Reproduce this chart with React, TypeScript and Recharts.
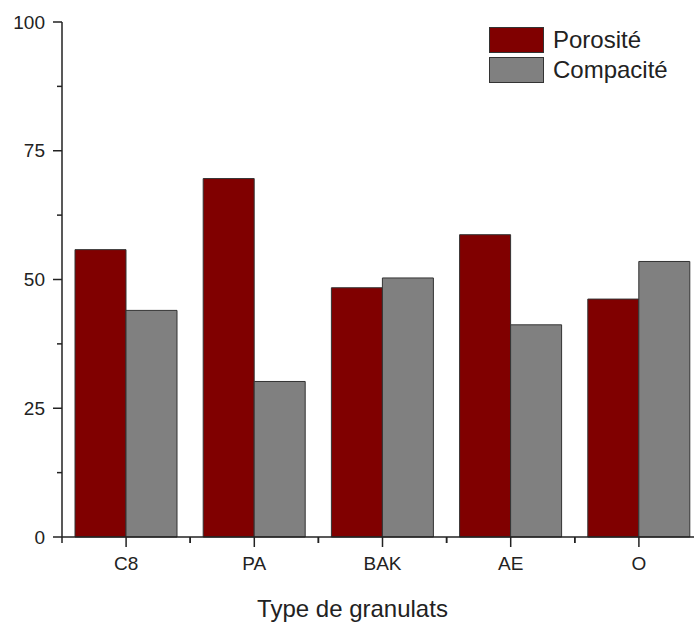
import { BarChart, Bar, XAxis, YAxis, Legend } from 'recharts';

const categories = ['C8', 'PA', 'BAK', 'AE', 'O'];
const seriesNames = ['Porosité', 'Compacité'];
const porosite = [55.8, 69.6, 48.4, 58.7, 46.2];
const compacite = [44.0, 30.2, 50.3, 41.2, 53.5];
const yTicks = [0, 12.5, 25, 37.5, 50, 62.5, 75, 87.5, 100];
const yLabels = [0, 25, 50, 75, 100];

const data = categories.map((name, i) => ({
  name,
  porosite: porosite[i],
  compacite: compacite[i],
}));

const FONT = '"Liberation Sans", Arial, sans-serif';
const INK = '#222';

// y ticks: long ones with a label, short ones in between
const YTick = (props: any) => {
  const { x, y, payload } = props;
  const major = yLabels.includes(payload.value);
  const len = major ? 9 : 5;
  return (
    <g>
      <line x1={x - len} x2={x} y1={y} y2={y} stroke={INK} strokeWidth={1.5} />
      {major && (
        <text x={x - len - 8} y={y} dy="0.35em" textAnchor="end" fontSize={19} fill={INK} fontFamily={FONT}>
          {payload.value}
        </text>
      )}
    </g>
  );
};

// x ticks: long one at the category, short ones at the band edges
const XTick = (props: any) => {
  const { x, y, payload, width, visibleTicksCount } = props;
  const half = payload.offset || width / visibleTicksCount / 2;
  return (
    <g>
      <line x1={x} x2={x} y1={y} y2={y + 10} stroke={INK} strokeWidth={1.5} />
      <line x1={x - half} x2={x - half} y1={y} y2={y + 6} stroke={INK} strokeWidth={1.5} />
      <line x1={x + half} x2={x + half} y1={y} y2={y + 6} stroke={INK} strokeWidth={1.5} />
      <text x={x} y={y + 26} dy="0.35em" textAnchor="middle" fontSize={19} fill={INK} fontFamily={FONT}>
        {payload.value}
      </text>
    </g>
  );
};

// keep the series order (Recharts sorts legend items by name)
const LegendBox = (props: any) => {
  const items = [...(props.payload || [])].sort(
    (a: any, b: any) => seriesNames.indexOf(a.value) - seriesNames.indexOf(b.value)
  );
  return (
    <div style={{ fontFamily: FONT, fontSize: 24, color: INK }}>
      {items.map((e: any) => (
        <div key={e.value} style={{ display: 'flex', alignItems: 'center', height: 30 }}>
          <span
            style={{
              display: 'inline-block',
              boxSizing: 'border-box',
              width: 55,
              height: 26,
              background: e.color,
              border: '1.5px solid #333',
              marginRight: 9,
            }}
          />
          <span>{e.value}</span>
        </div>
      ))}
    </div>
  );
};

export default function App() {
  return (
    <div style={{ position: 'absolute', left: 0, top: 0, width: 694, height: 623, overflow: 'hidden', background: '#fff' }}>
      <BarChart
        width={703}
        height={623}
        data={data}
        margin={{ top: 22, right: 0, bottom: 0, left: 0 }}
        barCategoryGap={13}
        barGap={0}
      >
        <XAxis
          dataKey="name"
          height={86}
          interval={0}
          tickSize={0}
          tickMargin={0}
          tick={XTick}
          axisLine={{ stroke: INK, strokeWidth: 1.5 }}
          label={{
            value: 'Type de granulats',
            position: 'insideBottom',
            offset: 6,
            dx: -30,
            fontSize: 24,
            fill: INK,
            fontFamily: FONT,
          }}
        />
        <YAxis
          width={62}
          domain={[0, 100]}
          ticks={yTicks}
          interval={0}
          tickSize={0}
          tickMargin={0}
          tick={YTick}
          axisLine={{ stroke: INK, strokeWidth: 1.5 }}
        />
        <Legend
          layout="vertical"
          align="center"
          verticalAlign="middle"
          content={LegendBox}
          wrapperStyle={{ left: 489, top: 25, width: 200, height: 60 }}
        />
        <Bar dataKey="porosite" name={seriesNames[0]} fill="#800000" stroke="#333" strokeWidth={1} isAnimationActive={false} />
        <Bar dataKey="compacite" name={seriesNames[1]} fill="#808080" stroke="#333" strokeWidth={1} isAnimationActive={false} />
      </BarChart>
    </div>
  );
}
